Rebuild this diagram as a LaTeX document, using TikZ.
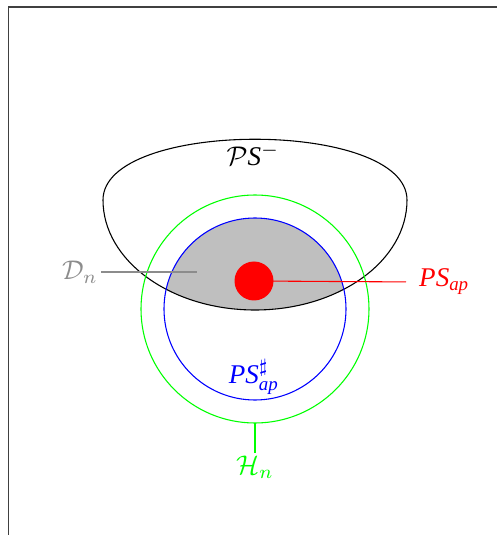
\documentclass[tikz,border=0pt]{standalone}
\usepackage{amsmath,amssymb}
\usepackage{fontspec}
\setmainfont{Liberation Serif}
\usepackage{tikz}
\usetikzlibrary{positioning}
\definecolor{SetGreen}{HTML}{00FF00}
\definecolor{SetShade}{HTML}{BFBFBF}
\definecolor{SetGray}{HTML}{8C8C8C}

\begin{document}
\begin{tikzpicture}[x=0.37pt,y=0.37pt]
  \useasboundingbox (0,0) rectangle (497,535);
  % Frame (only two sides show)
  \draw[black!75, line width=0.6pt] (8.5,0) -- (8.5,528) -- (497,528);

  % Shaded part: PS^- inside the blue disc
  \begin{scope}
    \clip (255,226) circle (91);
    \fill[SetShade] (103,335) .. controls (103,416) and (407,416) .. (407,335)
      arc (0:-180:152 and 110) -- cycle;
  \end{scope}

  % The set PS^-
  \draw (103,335) .. controls (103,416) and (407,416) .. (407,335)
    arc (0:-180:152 and 110) -- cycle;
  \node (psminus) at (253,380) {$\mathcal{P}\mathit{S}^-$};

  % Discs
  \draw[blue] (255,226) circle (91);
  \draw[SetGreen] (255,226) circle (114);
  \node[circle, fill=red, minimum size=39*0.37pt, inner sep=0pt] (dot) at (254,254) {};

  % Annotations
  \node[red, anchor=west, inner sep=1pt] (psap) at (416,253) {$\mathit{PS}_{\mathit{ap}}$};
  \draw[red, shorten >=10*0.37pt] (dot.center) -- (psap.west);
  \node[SetGray, anchor=east, inner sep=1pt] (dn) at (101,263) {$\mathcal{D}_n$};
  \coordinate (dnend) at (197,263);
  \draw[SetGray] (dn.east) -- (dnend);
  \node[blue] (pssharp) at (254,158) {$\mathit{PS}^\sharp_{\mathit{ap}}$};
  \coordinate (hntop) at (255,112);
  \node[SetGreen, anchor=north, inner sep=1pt] (hn) at (255,82) {$\mathcal{H}_n$};
  \draw[SetGreen] (hntop) -- (hn.north);
\end{tikzpicture}
\end{document}
